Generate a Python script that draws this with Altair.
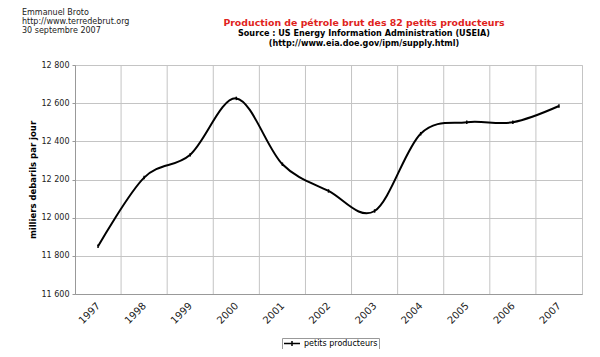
import altair as alt
import pandas as pd

years = [1997, 1998, 1999, 2000, 2001, 2002, 2003, 2004, 2005, 2006, 2007]
production = [11850, 12210, 12330, 12625, 12280, 12140, 12035, 12440, 12500, 12500, 12585]
series_name = "petits producteurs"
y_ticks = [11600, 11800, 12000, 12200, 12400, 12600, 12800]
year_bounds = [1997.5, 1998.5, 1999.5, 2000.5, 2001.5, 2002.5, 2003.5, 2004.5, 2005.5, 2006.5]

header_lines = ["Emmanuel Broto", "http://www.terredebrut.org", "30 septembre 2007"]
title_text = "Production de pétrole brut des 82 petits producteurs"
subtitle_lines = ["Source : US Energy Information Administration (USEIA)",
                  "(http://www.eia.doe.gov/ipm/supply.html)"]
y_title = "milliers debarils par jour"

FONT = "DejaVu Sans"
GRID = "#c4c4c4"

df = pd.DataFrame({"year": years, "value": production, "serie": [series_name] * len(years)})
bounds_df = pd.DataFrame({"b": year_bounds})


def make_x(field):
    return alt.X(
        f"{field}:Q",
        scale=alt.Scale(domain=[1996.5, 2007.5], nice=False, zero=False),
        axis=alt.Axis(values=years, format="d", labelAngle=-45, labelAlign="right",
                      labelBaseline="middle", grid=False, ticks=False,
                      domainColor="#999999", labelFontSize=10, labelPadding=10,
                      labelColor="#222222", labelFont=FONT, title=None),
    )


y_enc = alt.Y(
    "value:Q",
    scale=alt.Scale(domain=[11600, 12800], nice=False, zero=False),
    axis=alt.Axis(values=y_ticks,
                  labelExpr="replace(format(datum.value, ',d'), ',', ' ')",
                  gridColor=GRID, tickSize=3, tickColor="#999999", domainColor="#999999",
                  labelFontSize=8, labelPadding=3, labelColor="#222222", labelFont=FONT,
                  title=y_title, titleFont=FONT, titleFontSize=8.5, titleFontWeight="bold",
                  titleColor="#000000", titlePadding=4),
)

color_enc = alt.Color(
    "serie:N",
    scale=alt.Scale(range=["#000000"]),
    legend=alt.Legend(orient="none", legendX=207, legendY=273, title=None,
                      strokeColor="#999999", fillColor="white", padding=1,
                      labelFont=FONT, labelFontSize=8, labelColor="#000000", labelOffset=3,
                      symbolType="M-1,0L1,0M0,-0.3L0,0.3", symbolSize=256,
                      clipHeight=9,
                      symbolStrokeWidth=1.5, symbolStrokeColor="#000000"),
)

rules = alt.Chart(bounds_df).mark_rule(color=GRID, strokeWidth=1).encode(x=make_x("b"))

line = alt.Chart(df).mark_line(interpolate="cardinal", tension=0, strokeWidth=2).encode(
    x=make_x("year"), y=y_enc, color=color_enc)

points = alt.Chart(df).mark_point(shape="M0,-1L0,1", size=12, strokeWidth=1.5, filled=False,
                                  opacity=1).encode(x=make_x("year"), y=y_enc, color=color_enc)

one = alt.Data(values=[{}])
header = alt.Chart(one).mark_text(
    text="\n".join(header_lines), lineBreak="\n", lineHeight=9, align="left", baseline="top",
    font=FONT, fontSize=8, color="#222222").encode(x=alt.value(-53), y=alt.value(-56))

title = alt.Chart(one).mark_text(
    text=title_text, align="center", baseline="middle", font=FONT, fontSize=9.4,
    fontWeight="bold", color="#e0231c").encode(x=alt.value(289), y=alt.value(-42))

sub = alt.Chart(one).mark_text(
    text="\n".join(subtitle_lines), lineBreak="\n", lineHeight=9.5, align="center",
    baseline="middle", font=FONT, fontSize=8.1, fontWeight="bold",
    color="#000000").encode(x=alt.value(289), y=alt.value(-31))

chart = alt.layer(rules, line, points, header, title, sub).properties(
    width=507, height=229,
    autosize=alt.AutoSizeParams(type="none"),
    padding={"left": 67, "top": 57, "right": 10, "bottom": 55},
).configure_view(stroke=GRID)

chart.save("out.html", embed_options={"renderer": "svg", "actions": False})
